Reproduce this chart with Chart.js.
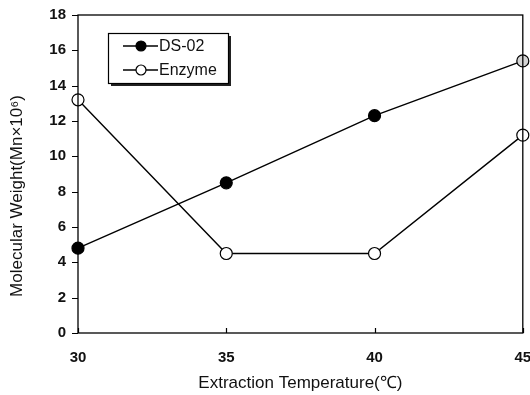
<!DOCTYPE html>
<html>
<head>
<meta charset="utf-8">
<script src="https://cdn.jsdelivr.net/npm/chart.js@4/dist/chart.umd.min.js"></script>
<style>
  html, body { margin: 0; padding: 0; background: #fff; }
  #wrap { width: 530px; height: 395px; }
</style>
</head>
<body>
<div id="wrap"><canvas id="c" width="530" height="395"></canvas></div>
<script>
// Extraction temperature (℃)
const temperatures = [30, 35, 40, 45];
// Molecular weight, Mn × 10^6
const ds02 = [4.8, 8.5, 12.3, 15.4];
const enzyme = [13.2, 4.5, 4.5, 11.2];
const yTicks = [0, 2, 4, 6, 8, 10, 12, 14, 16, 18];

const FONT = '"Liberation Sans", Arial, sans-serif';

const toPoints = vals => temperatures.map((t, i) => ({ x: t, y: vals[i] }));

// Frame, inward/outward tick marks, axis titles and the boxed legend
const decorations = {
  id: 'decorations',
  afterDatasetsDraw(chart) {
    const { ctx, chartArea: a, scales: { x, y } } = chart;
    ctx.save();
    ctx.strokeStyle = '#000';
    ctx.lineWidth = 1.3;
    ctx.strokeRect(a.left, a.top, a.right - a.left, a.bottom - a.top);

    // y ticks point outward (left)
    ctx.lineWidth = 1.2;
    ctx.beginPath();
    yTicks.forEach(v => {
      const py = Math.round(y.getPixelForValue(v)) + 0.5;
      ctx.moveTo(a.left - 6, py);
      ctx.lineTo(a.left, py);
    });
    // x ticks point inward (up)
    temperatures.forEach(t => {
      const px = Math.round(x.getPixelForValue(t)) + 0.5;
      ctx.moveTo(px, a.bottom);
      ctx.lineTo(px, a.bottom - 5);
    });
    ctx.stroke();

    // axis titles
    ctx.fillStyle = '#111';
    ctx.font = '17px ' + FONT;
    ctx.textAlign = 'center';
    ctx.textBaseline = 'middle';
    ctx.fillText('Extraction Temperature(\u2103)', (a.left + a.right) / 2, 383);
    ctx.save();
    ctx.translate(17, 196);
    ctx.rotate(-Math.PI / 2);
    ctx.fillText('Molecular Weight(Mn\u00d710\u2076)', 0, 0);
    ctx.restore();

    // legend box with drop shadow
    const bx = 108, by = 33, bw = 120, bh = 50;
    ctx.fillStyle = '#222';
    ctx.fillRect(bx + 3, by + 3, bw, bh);
    ctx.fillStyle = '#fff';
    ctx.fillRect(bx, by, bw, bh);
    ctx.lineWidth = 1.2;
    ctx.strokeStyle = '#000';
    ctx.strokeRect(bx + 0.5, by + 0.5, bw, bh);

    ctx.font = '16px ' + FONT;
    const rows = [
      { label: 'DS-02', fill: '#000', y: by + 13 },
      { label: 'Enzyme', fill: '#fff', y: by + 37 }
    ];
    rows.forEach(r => {
      ctx.beginPath();
      ctx.moveTo(123, r.y);
      ctx.lineTo(158, r.y);
      ctx.lineWidth = 1.3;
      ctx.stroke();
      ctx.beginPath();
      ctx.arc(141, r.y, 5, 0, Math.PI * 2);
      ctx.fillStyle = r.fill;
      ctx.fill();
      ctx.lineWidth = 1.2;
      ctx.stroke();
      ctx.fillStyle = '#111';
      ctx.textAlign = 'left';
      ctx.fillText(r.label, 159, r.y + 1);
    });
    ctx.restore();
  }
};

new Chart(document.getElementById('c'), {
  type: 'line',
  data: {
    datasets: [
      {
        label: 'Enzyme',
        data: toPoints(enzyme),
        borderColor: '#000',
        borderWidth: 1.4,
        pointBackgroundColor: '#fff',
        pointBorderColor: '#000',
        pointBorderWidth: 1.2,
        pointRadius: 6,
        clip: false,
        order: 2
      },
      {
        label: 'DS-02',
        data: toPoints(ds02),
        borderColor: '#000',
        borderWidth: 1.4,
        pointBackgroundColor: ['#000', '#000', '#000', '#d4d4d4'],
        pointBorderColor: '#000',
        pointBorderWidth: 1.2,
        pointRadius: 6,
        clip: false,
        order: 1
      }
    ]
  },
  options: {
    responsive: false,
    devicePixelRatio: 1,
    animation: false,
    layout: { padding: { top: 15, right: 7, bottom: 0, left: 0 } },
    plugins: { legend: { display: false }, tooltip: { enabled: false } },
    scales: {
      x: {
        type: 'linear',
        min: 30,
        max: 45,
        grid: { display: false, drawTicks: false },
        border: { display: false },
        ticks: {
          stepSize: 5,
          padding: 16,
          color: '#111',
          font: { family: FONT, size: 15, weight: 'bold' }
        },
        afterFit(s) { s.height = 62; s.paddingLeft = 0; s.paddingRight = 0; }
      },
      y: {
        min: 0,
        max: 18,
        grid: { display: false, drawTicks: false },
        border: { display: false },
        ticks: {
          stepSize: 2,
          padding: 12,
          color: '#111',
          font: { family: FONT, size: 15, weight: 'bold' }
        },
        afterFit(s) { s.width = 78; s.paddingTop = 0; s.paddingBottom = 0; }
      }
    }
  },
  plugins: [decorations]
});
</script>
</body>
</html>
